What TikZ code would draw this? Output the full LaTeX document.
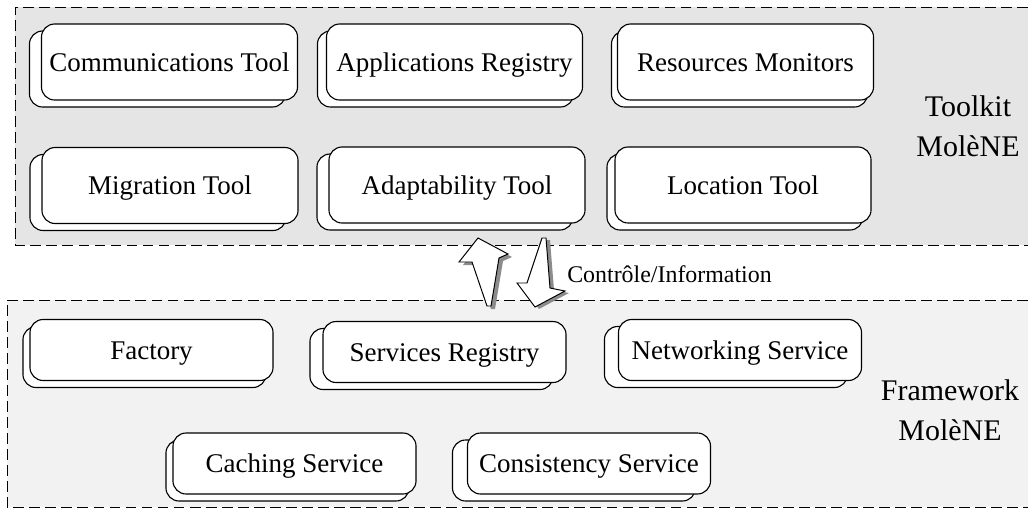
\documentclass[tikz,border=0pt]{standalone}
\usepackage{fontspec}
\setmainfont{Liberation Serif}
\usetikzlibrary{shadows}

\tikzset{
	stacked/.style={draw, fill=white, line width=0.8pt, rounded corners=0.33cm,
		inner sep=0pt, text height=0.45cm, text depth=0cm,
		font=\fontsize{19.2}{23}\selectfont,
		copy shadow={shadow xshift=#1, shadow yshift=-0.175cm}},
	stacked/.default=-0.3cm,
	toolbox/.style={stacked=#1, minimum width=6.4cm, minimum height=1.9cm},
	toolbox/.default=-0.3cm,
	servicebox/.style={stacked=#1, minimum width=6.075cm, minimum height=1.525cm},
	servicebox/.default=-0.3cm,
	layerline/.style={line width=0.7pt, dash pattern=on 7.7pt off 3.7pt},
	layername/.style={align=center, font=\fontsize{21.3}{28.5}\selectfont},
	blockarrow/.style={draw, fill=white, line width=0.7pt, line join=miter},
	arrowshade/.style={fill=black!45},
}

\begin{document}
\begin{tikzpicture}[x=0.025cm, y=-0.025cm]
	%%%%% START %%%%%
	\useasboundingbox (0,0) rectangle (1028,515);
	
	% toolkit layer
	\fill[black!10] (15,7) rectangle (1028,245);
	\draw[layerline] (1028,7) -- (15,7) -- (15,245) -- (1028,245);
	
	% framework layer
	\fill[black!5] (7,300) rectangle (1028,507);
	\draw[layerline] (1028,300) -- (7,300) -- (7,507) -- (1028,507);
	
	\node[toolbox=-0.3cm] (comm) at (169.5,62) {Communications Tool};
	\node[toolbox=-0.225cm] (appreg) at (454.5,62) {Applications Registry};
	\node[toolbox=-0.15cm] (resmon) at (745.5,62) {Resources Monitors};
	
	\node[toolbox=-0.3cm] (migr) at (170,185.5) {Migration Tool};
	\node[toolbox=-0.3cm] (adapt) at (457,185) {Adaptability Tool\hspace{0.6cm}};
	\node[toolbox=-0.2cm] (loc) at (743,185) {Location Tool};
	
	\node[layername] (toolkit) at (968,126) {Toolkit\\MolèNE};
	
	\node[servicebox=-0.175cm] (factory) at (151.5,350) {Factory};
	\node[servicebox=-0.325cm] (servreg) at (444.5,352) {Services Registry};
	\node[servicebox=-0.35cm] (netserv) at (740,350) {Networking Service};
	
	\node[servicebox=-0.175cm] (caching) at (294.5,463.5) {Caching Service};
	\node[servicebox=-0.375cm] (consist) at (589,463.5) {Consistency Service};
	
	\node[layername] (framework) at (950,410) {Framework\\MolèNE};
	
	% control / information arrows
	\fill[arrowshade, shift={(4,3)}] (478,238) -- (508,254) -- (499,258) -- (491,306) -- (487,306) -- (472,262) -- (459,262) -- cycle;
	\draw[blockarrow] (478,238) -- (508,254) -- (499,258) -- (491,306) -- (487,306) -- (472,262) -- (459,262) -- cycle;
	
	\fill[arrowshade, shift={(4,2)}] (542,238) -- (546,238) -- (550,288) -- (565,291) -- (535,307) -- (517,283) -- (527,283) -- cycle;
	\draw[blockarrow] (542,238) -- (546,238) -- (550,288) -- (565,291) -- (535,307) -- (517,283) -- (527,283) -- cycle;
	
	\node[anchor=west, inner sep=0pt, text height=0.43cm, text depth=0cm, font=\fontsize{17}{20}\selectfont] (ctrl) at (567,273.5) {Contrôle/Information};
	%%%%% END %%%%%
\end{tikzpicture}
\end{document}
